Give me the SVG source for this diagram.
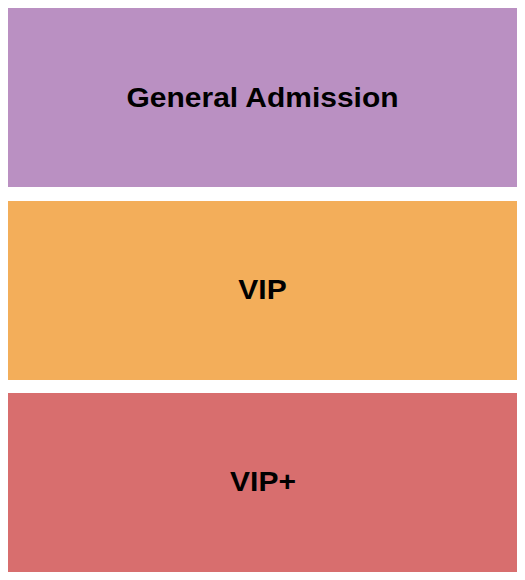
<svg xmlns="http://www.w3.org/2000/svg" width="525" height="580" viewBox="0 0 525 580">
<style>
.lbl{font-family:"Liberation Sans",Arial,sans-serif;font-weight:bold;font-size:27px;fill:#000;text-anchor:middle}
</style>
<rect width="525" height="580" fill="#fff"/>
<g id="ga"><rect x="8" y="8" width="509" height="179" fill="#BA90C2"/><text class="lbl" transform="translate(262.5,106.7) scale(1.11,1)">General Admission</text></g>
<g id="vip"><rect x="8" y="201" width="509" height="179" fill="#F3AE5A"/><text class="lbl" transform="translate(262.5,298.7) scale(1.11,1)">VIP</text></g>
<g id="vipplus"><rect x="8" y="393" width="509" height="179" fill="#D86E6E"/><text class="lbl" transform="translate(263,490.5) scale(1.11,1)">VIP+</text></g>
<g id="connectors"/>
</svg>
